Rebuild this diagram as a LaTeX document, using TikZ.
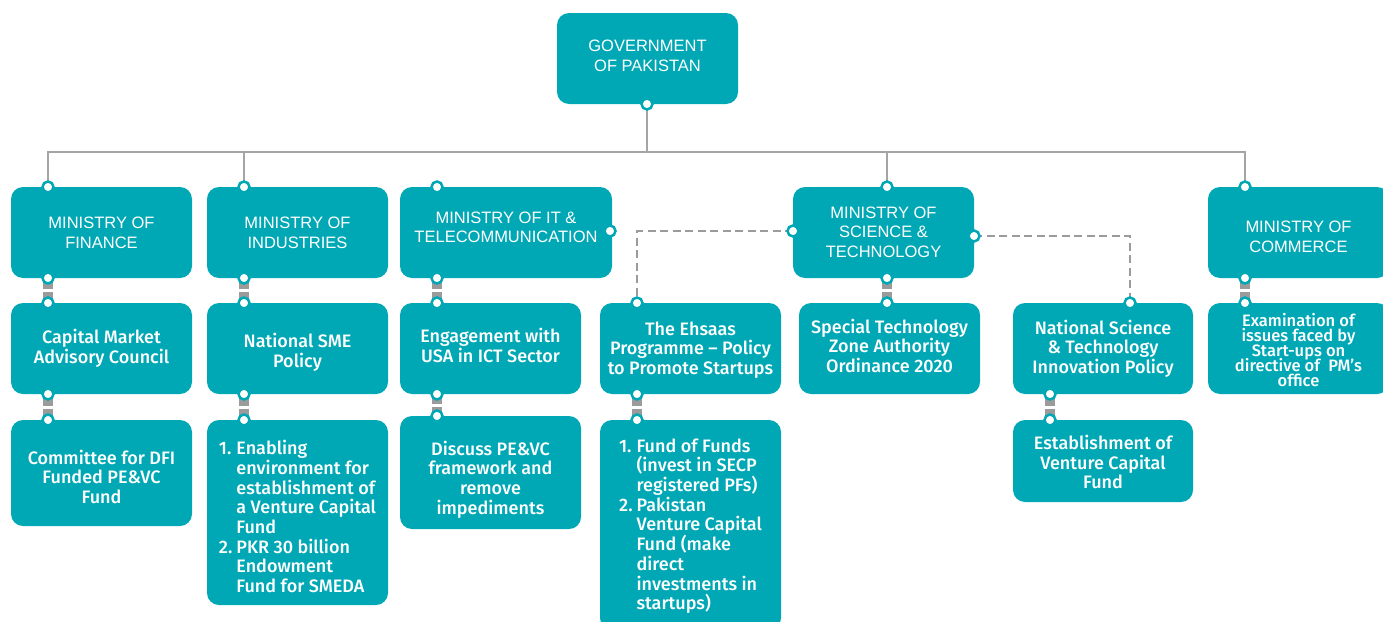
\documentclass[tikz,border=0pt]{standalone}
\usepackage{fontspec}
\setmainfont{Liberation Sans}
\newfontfamily\medfont{Fira Sans}[UprightFont={* Medium}]
\newfontfamily\capfont{Liberation Sans}
\usetikzlibrary{calc,backgrounds}
\definecolor{teal}{RGB}{0,168,181}
\definecolor{treegray}{RGB}{165,165,165}
\definecolor{stubgray}{RGB}{155,155,155}
% centred lines with a fixed baseline distance
\newcommand\tx[2]{\raisebox{#1}[\height][\depth]{\vbox{\lineskiplimit=-100pt\lineskip=0pt\let\\\cr
  \halign{\hfil\vrule height .7\baselineskip depth .3\baselineskip width 0pt##\hfil\cr#2\crcr}}}}
% numbered list with hanging lines
\newcommand\txl[2]{\raisebox{#1}[\height][\depth]{\vbox{\lineskiplimit=-100pt\lineskip=0pt\let\\\cr
  \halign{\vrule height .7\baselineskip depth .3\baselineskip width 0pt##\hfil&\hspace{4pt}##\hfil\cr#2\crcr}}}}
\begin{document}
\begin{tikzpicture}[x=1pt,y=-1pt,
  box/.style={rectangle, rounded corners=12pt, fill=teal, text=white, inner sep=0pt},
  capsfont/.style={font=\capfont\fontsize{16.5}{19.5}\selectfont},
  subfont/.style={font=\medfont\fontsize{18}{19.7}\selectfont},
  dot/.style={circle, fill=white, draw=teal, line width=2.5pt, minimum size=11pt, inner sep=0pt},
  tree/.style={draw=treegray, line width=1.5pt},
  stub/.style={draw=stubgray, line width=10pt},
  dashline/.style={draw=stubgray, line width=2.5pt, dash pattern=on 8pt off 4.5pt}
]
\useasboundingbox (0,0) rectangle (1383,621);

% ---- top
\node[box, capsfont, minimum width=181pt, minimum height=91pt] (gov) at (647.5,58.5) {\tx{1pt}{GOVERNMENT\\OF PAKISTAN}};

% ---- ministries
\node[box, capsfont, minimum width=181pt, minimum height=91pt] (fin) at (101.5,232.5) {\tx{-2pt}{MINISTRY OF\\FINANCE}};
\node[box, capsfont, minimum width=181pt, minimum height=91pt] (ind) at (297.5,232.5) {\tx{-2pt}{MINISTRY OF\\INDUSTRIES}};
\node[box, capsfont, minimum width=212pt, minimum height=91pt] (it) at (506,232.5) {\tx{3.5pt}{MINISTRY OF IT \&\\TELECOMMUNICATION}};
\node[box, capsfont, minimum width=181pt, minimum height=91pt] (st) at (883.5,232.5) {\tx{-1.5pt}{MINISTRY OF\\SCIENCE \&\\TECHNOLOGY}};
\node[box, capsfont, minimum width=181pt, minimum height=91pt] (com) at (1298.5,232.5) {\tx{-6pt}{MINISTRY OF\\COMMERCE}};

% ---- second row
\node[box, subfont, minimum width=181pt, minimum height=91pt] (cm) at (101.5,348.5) {\tx{-1pt}{Capital Market\\Advisory Council}};
\node[box, subfont, minimum width=181pt, minimum height=91pt] (ns) at (297.5,348.5) {\tx{-5pt}{National SME\\Policy}};
\node[box, subfont, minimum width=181pt, minimum height=91pt] (eng) at (490.5,348.5) {\tx{0pt}{Engagement with\\USA in ICT Sector}};
\node[box, subfont, minimum width=181pt, minimum height=91pt] (ehs) at (690.5,348.5) {\tx{-2.5pt}{The Ehsaas\\Programme – Policy\\to Promote Startups}};
\node[box, subfont, minimum width=181pt, minimum height=91pt] (stz) at (889.5,348.5) {\tx{0pt}{Special Technology\\Zone Authority\\Ordinance 2020}};
\node[box, subfont, minimum width=180pt, minimum height=91pt] (nst) at (1103,348.5) {\tx{-1pt}{National Science\\\& Technology\\Innovation Policy}};
\node[box, font=\medfont\fontsize{16.5}{15}\selectfont, minimum width=181pt, minimum height=91pt] (coms) at (1298.5,348.5) {\tx{-4pt}{Examination of\\issues faced by\\Start-ups on\\directive of\ \ PM’s\\office}};

% ---- third row
\node[box, subfont, minimum width=181pt, minimum height=106pt] (dfi) at (101.5,473) {\tx{-6.5pt}{Committee for DFI\\Funded PE\&VC\\Fund}};
\node[box, subfont, minimum width=181pt, minimum height=185pt] (ind3) at (297.5,512.5) {\txl{-7pt}{1.&Enabling\\&environment for\\&establishment of\\&a Venture Capital\\&Fund\\2.&PKR 30 billion\\&Endowment\\&Fund for SMEDA}};
\node[box, subfont, minimum width=181pt, minimum height=113pt] (it3) at (490.5,472.5) {\tx{-8pt}{Discuss PE\&VC\\framework and\\remove\\impediments}};
\node[box, subfont, minimum width=181pt, minimum height=210pt] (ehs3) at (690.5,525) {\txl{-2pt}{1.&Fund of Funds\\&(invest in SECP\\&registered PFs)\\2.&Pakistan\\&Venture Capital\\&Fund (make\\&direct\\&investments in\\&startups)}};
\node[box, subfont, minimum width=180pt, minimum height=82pt] (nst3) at (1103,461) {\tx{-4pt}{Establishment of\\Venture Capital\\Fund}};

% ---- dots
\node[dot] (govB) at (647,104) {};
\node[dot] (finT) at (48,187) {};
\node[dot] (finB) at (48,278) {};
\node[dot] (cmT) at (48,303) {};
\node[dot] (cmB) at (48,394) {};
\node[dot] (dfiT) at (48,420) {};
\node[dot] (indT) at (244,187) {};
\node[dot] (indB) at (244,278) {};
\node[dot] (nsT) at (244,303) {};
\node[dot] (nsB) at (244,394) {};
\node[dot] (ind3T) at (244,420) {};
\node[dot] (itT) at (437,187) {};
\node[dot] (itR) at (610,231) {};
\node[dot] (itB) at (437,278) {};
\node[dot] (engT) at (437,303) {};
\node[dot] (engB) at (437,394) {};
\node[dot] (it3T) at (437,416) {};
\node[dot] (ehsT) at (637,303) {};
\node[dot] (ehsB) at (637,394) {};
\node[dot] (ehs3T) at (637,420) {};
\node[dot] (stT) at (887,187) {};
\node[dot] (stL) at (793,231) {};
\node[dot] (stR) at (974,236) {};
\node[dot] (stB) at (887,278) {};
\node[dot] (stzT) at (887,303) {};
\node[dot] (nstT) at (1130,303) {};
\node[dot] (nstB) at (1050,394) {};
\node[dot] (nst3T) at (1050,420) {};
\node[dot] (comT) at (1245,187) {};
\node[dot] (comB) at (1245,278) {};
\node[dot] (comsT) at (1245,303) {};

\coordinate (bus) at (647,152);

\begin{pgfonlayer}{background}
  \draw[tree] (govB.center) -- (bus);
  \draw[tree] (finT.center) -- (finT.center |- bus) -- (comT.center |- bus) -- (comT.center);
  \draw[tree] (indT.center) -- (indT.center |- bus);
  \draw[tree] (stT.center) -- (stT.center |- bus);
  \draw[dashline] (stL.center) -| (ehsT.center);
  \draw[dashline] (stR.center) -| (nstT.center);
  \foreach \a/\b in {finB/cmT, cmB/dfiT, indB/nsT, nsB/ind3T, itB/engT, engB/it3T, ehsB/ehs3T, stB/stzT, nstB/nst3T, comB/comsT}{
    \draw[stub] (\a.center) -- ($(\a.center)!0.5!(\b.center)+(0,-1.5)$);
    \draw[stub] ($(\a.center)!0.5!(\b.center)+(0,1.5)$) -- (\b.center);
  }
\end{pgfonlayer}
\end{tikzpicture}
\end{document}
